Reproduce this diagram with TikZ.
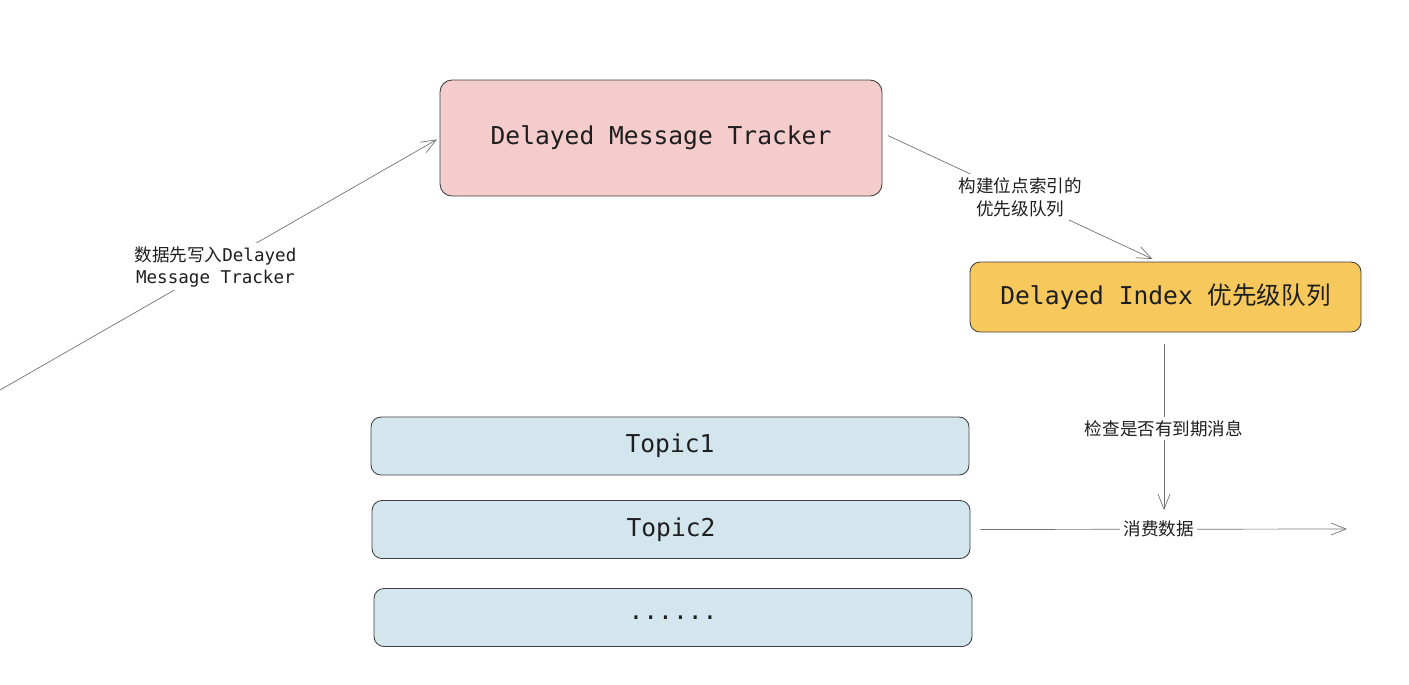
\documentclass[tikz,border=0pt]{standalone}
\usepackage{fontspec}
\setmonofont{DejaVu Sans Mono}
\newfontfamily\cjk{Noto Sans CJK SC}
\usetikzlibrary{arrows.meta}
\definecolor{trackpink}{HTML}{F4CCCC}
\definecolor{indexgold}{HTML}{F7C95C}
\definecolor{topicblue}{HTML}{D4E6ED}
\definecolor{inkdark}{HTML}{1E1E1E}

\begin{document}
\begin{tikzpicture}
        [
            box/.style      = {shape=rectangle, draw=inkdark!85, line width=0.5pt, rounded corners=0.24cm, text=inkdark, font=\ttfamily\fontsize{14}{17}\selectfont},
            topicbox/.style = {box, fill=topicblue, minimum width=11.96cm, minimum height=1.16cm, rounded corners=0.2cm},
            flow/.style     = {draw=black!55, line width=0.4pt, -{Straight Barb[length=3mm,width=2.4mm]}},
            note/.style     = {fill=white, text=inkdark, align=center, inner sep=2pt, font=\cjk\fontsize{10}{13}\selectfont},
            ]
            \useasboundingbox (0,0) rectangle (28.18,-13.68);
            % boxes
            \node [box, fill=trackpink, minimum width=8.84cm, minimum height=2.32cm] (trk) at (13.22,-2.76) {Delayed Message Tracker};
            \node [box, fill=indexgold, minimum width=7.82cm, minimum height=1.4cm, rounded corners=0.2cm] (idx) at (23.31,-5.94) {Delayed Index {\cjk 优先级队列}};
            \node [topicbox] (t1) at (13.40,-8.92) {Topic1};
            \node [topicbox] (t2) at (13.42,-10.59) {Topic2};
            \node [topicbox] (tn) at (13.46,-12.35) {......};
            % free ends
            \coordinate (src) at (0,-7.8);
            \coordinate (chk) at (23.28,-10.2);
            \coordinate (out) at (26.94,-10.58);
            % connectors
            \draw [flow, shorten >=0.06cm] (src) -- (trk.west)
                node [note, pos=0.49, font=\ttfamily\fontsize{10}{12.5}\selectfont] {{\cjk 数据先写入}Delayed\\Message Tracker};
            \draw [flow, shorten <=0.12cm, shorten >=0.12cm] ([yshift=0.1cm]trk.east) -- ([xshift=-0.15cm]idx.north)
                node [note, pos=0.5] {构建位点索引的\\优先级队列};
            \draw [flow, shorten <=0.24cm] (idx.south -| chk) -- (chk)
                node [note, pos=0.54] {检查是否有到期消息};
            \draw [flow, shorten <=0.2cm] (t2.east) -- (out)
                node [note, midway] {消费数据};
        \end{tikzpicture}
\end{document}
